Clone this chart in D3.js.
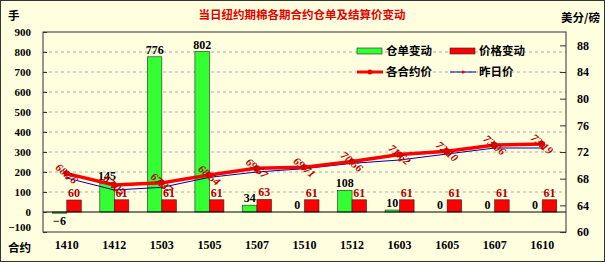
<!DOCTYPE html>
<html>
<head>
<meta charset="utf-8">
<script src="https://cdn.jsdelivr.net/npm/d3@7"></script>
<style>
  body { margin: 0; background: #fff; }
  svg { display: block; }
</style>
</head>
<body>
<svg id="chart" width="605" height="262"></svg>
<script>
// data
var contracts = ["1410", "1412", "1503", "1505", "1507", "1510", "1512", "1603", "1605", "1607", "1610"]
var warrantChange = [-6, 145, 776, 802, 34, 0, 108, 10, 0, 0, 0]
var priceChange = [60, 61, 61, 61, 63, 61, 61, 61, 61, 61, 61]
var settlePrice = [68.76, 67.05, 67.37, 68.54, 69.57, 69.71, 70.56, 71.62, 72.10, 73.06, 73.19]
var prevPrice = [68.1, 66.3, 66.7, 68.2, 69.0, 69.5, 70.3, 70.8, 71.7, 72.6, 72.6]
var leftTicks = [-100, 0, 100, 200, 300, 400, 500, 600, 700, 800, 900]
var rightTicks = [60, 64, 68, 72, 76, 80, 84, 88]

var numFont = "'Liberation Serif', 'Times New Roman', serif"
var cjkFont = "'Noto Sans CJK SC', sans-serif"

var svg = d3.select("#chart")
var margin = { left: 43, right: 39, top: 32, bottom: 30 }
var width = 605, height = 262
var plotW = width - margin.left - margin.right
var plotH = height - margin.top - margin.bottom

// background + outer frame
svg.append("rect").attr("x", 0.5).attr("y", 0.5).attr("width", width - 1).attr("height", height - 1)
  .attr("fill", "#ffffe0").attr("stroke", "#333")

var x0 = d3.scaleBand().domain(contracts).range([margin.left, margin.left + plotW])
  .paddingInner(0.39).paddingOuter(0.195)
var x1 = d3.scaleBand().domain(["w", "p"]).range([0, x0.bandwidth()])
var yL = d3.scaleLinear().domain([-100, 900]).range([margin.top + plotH, margin.top])
var yR = d3.scaleLinear().domain([60, 90]).range([margin.top + plotH, margin.top])
var cx = d => x0(d) + x0.bandwidth() / 2

var g = svg.append("g")

// grid
g.selectAll("line.grid").data(leftTicks.filter(d => d != 0 && d != -100 && d != 900)).enter()
  .append("line")
  .attr("x1", margin.left).attr("x2", margin.left + plotW)
  .attr("y1", d => yL(d)).attr("y2", d => yL(d))
  .attr("stroke", "#aaa").attr("stroke-dasharray", "3,3")

// bars
var bars = g.selectAll("g.cat").data(contracts).enter().append("g")
  .attr("transform", d => "translate(" + x0(d) + ",0)")
bars.append("rect")
  .attr("x", x1("w")).attr("width", x1.bandwidth())
  .attr("y", (d, i) => yL(Math.max(0, warrantChange[i])))
  .attr("height", (d, i) => Math.abs(yL(warrantChange[i]) - yL(0)))
  .attr("fill", "#33ff33").attr("stroke", "#222").attr("stroke-width", 0.6)
bars.append("rect")
  .attr("x", x1("p")).attr("width", x1.bandwidth())
  .attr("y", (d, i) => yL(priceChange[i]))
  .attr("height", (d, i) => yL(0) - yL(priceChange[i]))
  .attr("fill", "#ff0000").attr("stroke", "#222").attr("stroke-width", 0.6)

// zero line
g.append("line").attr("x1", margin.left).attr("x2", margin.left + plotW)
  .attr("y1", yL(0)).attr("y2", yL(0)).attr("stroke", "#000").attr("stroke-width", 1)

// lines
var line = d3.line().x((d, i) => cx(contracts[i])).y(d => yR(d))
g.append("path").datum(prevPrice).attr("d", line)
  .attr("fill", "none").attr("stroke", "#0000a0").attr("stroke-width", 1)
g.selectAll("circle.prev").data(prevPrice).enter().append("circle")
  .attr("cx", (d, i) => cx(contracts[i])).attr("cy", d => yR(d)).attr("r", 1.5).attr("fill", "#e00")
g.append("path").datum(settlePrice).attr("d", line)
  .attr("fill", "none").attr("stroke", "#ff0000").attr("stroke-width", 3.5)
g.selectAll("circle.set").data(settlePrice).enter().append("circle")
  .attr("cx", (d, i) => cx(contracts[i])).attr("cy", d => yR(d)).attr("r", 3).attr("fill", "#e00000")

// price labels (rotated)
g.selectAll("text.pl").data(settlePrice).enter().append("text")
  .attr("transform", (d, i) => "translate(" + cx(contracts[i]) + "," + yR(d) + ") rotate(40)")
  .attr("text-anchor", "middle").attr("dy", "0.35em")
  .attr("font-family", numFont).attr("font-size", 11).attr("font-weight", "bold").attr("font-style", "italic")
  .attr("fill", "#b00000")
  .text(d => d.toFixed(2))

// bar labels
bars.append("text")
  .attr("x", x1("w") + x1.bandwidth() / 2)
  .attr("y", (d, i) => warrantChange[i] < 0 ? yL(warrantChange[i]) + 12 : yL(warrantChange[i]) - 3)
  .attr("text-anchor", "middle")
  .attr("font-family", numFont).attr("font-size", 12).attr("font-weight", "bold").attr("fill", "#000")
  .text((d, i) => warrantChange[i] < 0 ? "\u2212" + Math.abs(warrantChange[i]) : warrantChange[i])
bars.append("text")
  .attr("x", x1("p") + x1.bandwidth() / 2)
  .attr("y", (d, i) => yL(priceChange[i]) - 3)
  .attr("text-anchor", "middle")
  .attr("font-family", numFont).attr("font-size", 12).attr("font-weight", "bold").attr("fill", "#b00000")
  .text((d, i) => priceChange[i])

// plot frame
g.append("rect").attr("x", margin.left).attr("y", margin.top).attr("width", plotW).attr("height", plotH)
  .attr("fill", "none").attr("stroke", "#333")

// axes
var leftAxis = d3.axisLeft(yL).tickValues(leftTicks).tickSizeInner(-4).tickSizeOuter(0).tickPadding(12)
var la = svg.append("g").attr("transform", "translate(" + margin.left + ",0)").call(leftAxis)
var rightAxis = d3.axisRight(yR).tickValues(rightTicks).tickSizeInner(-6).tickSizeOuter(0).tickPadding(14)
var ra = svg.append("g").attr("transform", "translate(" + (margin.left + plotW) + ",0)").call(rightAxis)
var bottomAxis = d3.axisBottom(x0).tickSize(0).tickPadding(8)
var ba = svg.append("g").attr("transform", "translate(0," + (margin.top + plotH) + ")").call(bottomAxis)
;[la, ra, ba].forEach(a => {
  a.select(".domain").remove()
  a.selectAll("line").attr("stroke", "#333")
  a.selectAll("text").attr("font-family", numFont).attr("font-size", 12).attr("font-weight", "bold").attr("fill", "#000")
})
la.selectAll("text").attr("font-size", 11)
ba.selectAll("line").remove()
ra.selectAll("text").attr("dx", -3)
// bottom-most left label sits a bit higher, as in the original
la.selectAll(".tick").filter(d => d == -100).select("text").attr("dy", "-0.1em")

// titles
svg.append("text").attr("x", 302).attr("y", 19).attr("text-anchor", "middle")
  .attr("font-family", cjkFont).attr("font-size", 11.5).attr("font-weight", "bold").attr("fill", "#e00000")
  .text("当日纽约期棉各期合约仓单及结算价变动")
svg.append("text").attr("x", 8).attr("y", 20)
  .attr("font-family", cjkFont).attr("font-size", 11.5).attr("font-weight", "bold").text("手")
svg.append("text").attr("x", 600).attr("y", 22).attr("text-anchor", "end")
  .attr("font-family", cjkFont).attr("font-size", 11.5).attr("font-weight", "bold").text("美分/磅")
svg.append("text").attr("x", 8).attr("y", 252)
  .attr("font-family", cjkFont).attr("font-size", 11.5).attr("font-weight", "bold").text("合约")

// legend
var legend = svg.append("g").attr("font-family", cjkFont).attr("font-size", 11.5).attr("font-weight", "bold")
var legendItems = [
  { name: "仓单变动", x: 357, y: 51, type: "rect", color: "#33ff33" },
  { name: "价格变动", x: 450, y: 51, type: "rect", color: "#ff0000" },
  { name: "各合约价", x: 357, y: 72, type: "bold", color: "#ff0000" },
  { name: "昨日价", x: 450, y: 72, type: "thin", color: "#0000a0" }
]
legendItems.forEach(d => {
  if (d.type == "rect") {
    legend.append("rect").attr("x", d.x).attr("y", d.y - 3).attr("width", 25).attr("height", 6)
      .attr("fill", d.color).attr("stroke", "#222").attr("stroke-width", 0.6)
  } else {
    legend.append("line").attr("x1", d.x).attr("x2", d.x + 26).attr("y1", d.y).attr("y2", d.y)
      .attr("stroke", d.color).attr("stroke-width", d.type == "bold" ? 3 : 1)
    legend.append("circle").attr("cx", d.x + 13).attr("cy", d.y).attr("r", d.type == "bold" ? 2.5 : 1.5).attr("fill", "#e00")
  }
  legend.append("text").attr("x", d.x + 29).attr("y", d.y).attr("dy", "0.38em").text(d.name)
})
</script>
</body>
</html>
